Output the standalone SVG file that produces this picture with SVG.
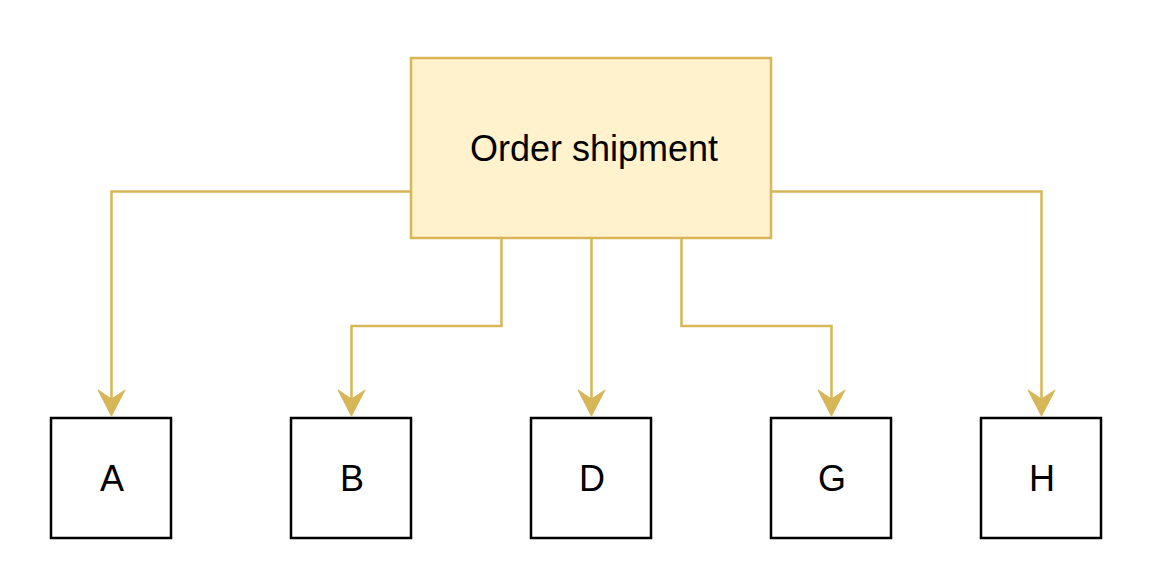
<svg xmlns="http://www.w3.org/2000/svg" width="1161" height="564" viewBox="0 0 1161 564">
<style>
.main{fill:#fff2cc;stroke:#d6b656;stroke-width:2.5}
.leaf{fill:#ffffff;stroke:#000000;stroke-width:2.5}
.lbl{font-family:"Liberation Sans",Arial,sans-serif;font-size:36px;fill:#000000;text-anchor:middle;dominant-baseline:central}
.edge{fill:none;stroke:#d6b656;stroke-width:2.5}
.head{fill:#d6b656;stroke:#d6b656;stroke-width:1}
</style>
<defs>
<path id="arrow" class="head" d="M0,0 L-13.5,-26 L0,-17 L13.5,-26 Z"/>
</defs>
<rect width="1161" height="564" fill="#ffffff"/>
<g id="connectors">
<path class="edge" d="M411,191.5 H111.5 V400"/>
<use href="#arrow" x="111.5" y="416"/>
<path class="edge" d="M501.5,238 V326 H351.5 V400"/>
<use href="#arrow" x="351.5" y="416"/>
<path class="edge" d="M591.5,238 V400"/>
<use href="#arrow" x="591.5" y="416"/>
<path class="edge" d="M681.5,238 V326 H831.5 V400"/>
<use href="#arrow" x="831.5" y="416"/>
<path class="edge" d="M771,191.5 H1041.5 V400"/>
<use href="#arrow" x="1041.5" y="416"/>
</g>
<g id="order-shipment">
<rect class="main" x="411" y="58" width="360" height="180"/>
<text class="lbl" x="594" y="148">Order shipment</text>
</g>
<g id="A">
<rect class="leaf" x="51" y="418" width="120" height="120"/>
<text class="lbl" x="112" y="478">A</text>
</g>
<g id="B">
<rect class="leaf" x="291" y="418" width="120" height="120"/>
<text class="lbl" x="352" y="478">B</text>
</g>
<g id="D">
<rect class="leaf" x="531" y="418" width="120" height="120"/>
<text class="lbl" x="592" y="478">D</text>
</g>
<g id="G">
<rect class="leaf" x="771" y="418" width="120" height="120"/>
<text class="lbl" x="832" y="478">G</text>
</g>
<g id="H">
<rect class="leaf" x="981" y="418" width="120" height="120"/>
<text class="lbl" x="1042" y="478">H</text>
</g>
</svg>
